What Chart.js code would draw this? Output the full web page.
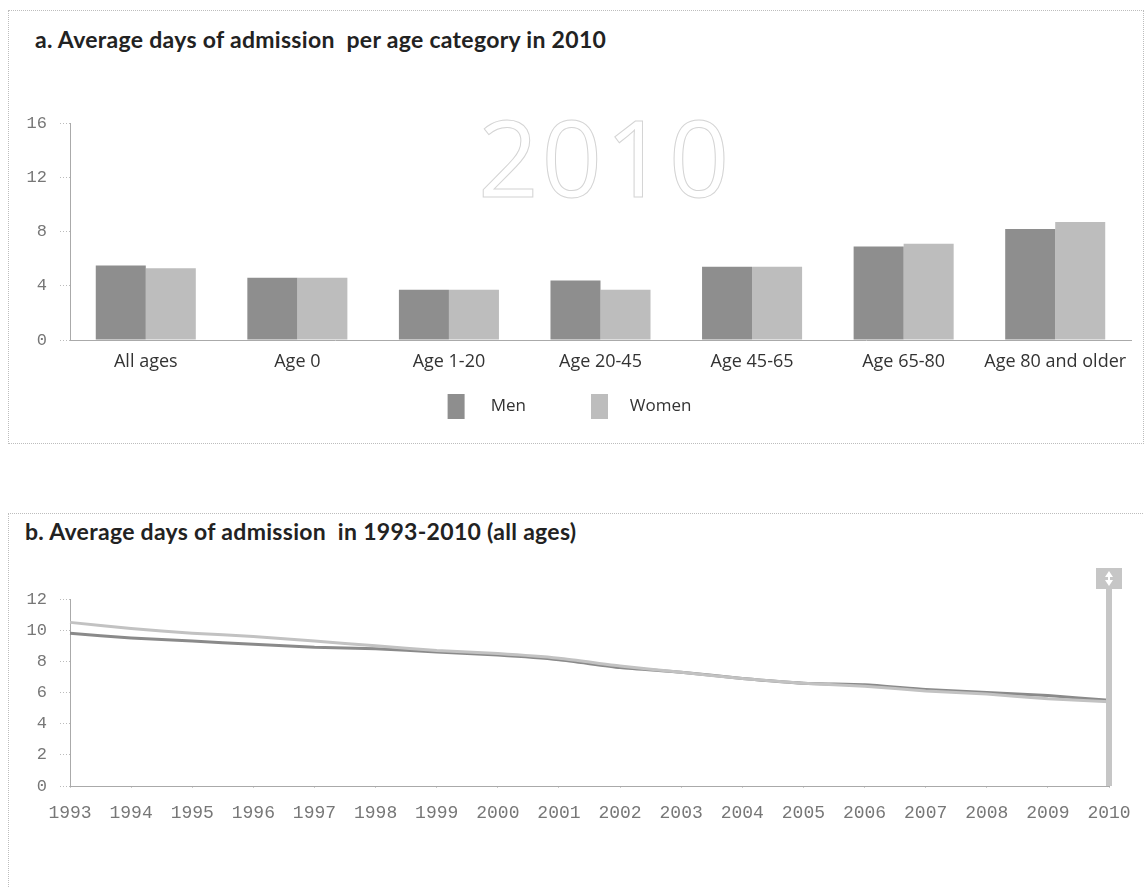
<!DOCTYPE html>
<html><head><meta charset="utf-8">
<script src="https://cdn.jsdelivr.net/npm/chart.js@4/dist/chart.umd.min.js"></script>
<style>
html,body{margin:0;padding:0;background:#fff;width:1146px;height:888px;overflow:hidden;}
.panel{position:absolute;border:1px dotted #bdbdbd;}
.title{position:absolute;font-family:Lato,"Noto Sans",sans-serif;font-weight:bold;font-size:23px;line-height:23px;letter-spacing:0.3px;color:#222;white-space:pre;}
.wm{position:absolute;font-family:"Open Sans",sans-serif;font-size:106px;letter-spacing:3px;color:transparent;-webkit-text-stroke:1px #d4d4d4;line-height:1;}
.box{position:absolute;}
</style></head>
<body>
<div class="panel" style="left:8px;top:10px;width:1134px;height:432px;"></div>
<div class="panel" style="left:8px;top:513px;width:1134px;height:374px;border-right:none;"></div>
<div class="title" style="left:35px;top:28px;">a. Average days of admission  per age category in 2010</div>
<div class="title" style="left:25px;top:520px;">b. Average days of admission  in 1993-2010 (all ages)</div>
<div class="wm" style="left:478px;top:103px;">2010</div>
<div class="box" style="left:0;top:100px;width:1146px;height:329px;"><canvas id="c1"></canvas></div>
<div class="box" style="left:0;top:561px;width:1146px;height:267px;"><canvas id="c2"></canvas></div>
<script>
const ageCategories = ["All ages","Age 0","Age 1-20","Age 20-45","Age 45-65","Age 65-80","Age 80 and older"];
const men2010 = [5.5,4.6,3.7,4.4,5.4,6.9,8.2];
const women2010 = [5.3,4.6,3.7,3.7,5.4,7.1,8.7];
const barTicks = [0,4,8,12,16];

const years = ["1993","1994","1995","1996","1997","1998","1999","2000","2001","2002","2003","2004","2005","2006","2007","2008","2009","2010"];
const menTrend =   [9.8,9.5,9.3,9.1,8.9,8.8,8.6,8.4,8.1,7.6,7.3,6.9,6.6,6.5,6.2,6.0,5.8,5.5];
const womenTrend = [10.5,10.1,9.8,9.6,9.3,9.0,8.7,8.5,8.2,7.7,7.3,6.9,6.6,6.4,6.1,5.9,5.6,5.4];
const lineTicks = [0,2,4,6,8,10,12];
const markedYear = "2010";

const MEN_BAR = '#8e8e8e', WOMEN_BAR = '#bdbdbd';
const MEN_LINE = '#8a8a8a', WOMEN_LINE = '#c2c2c2';
const monoFont = {family:'"Liberation Mono", monospace', size:17};

Chart.defaults.animation = false;
Chart.defaults.responsive = true;
Chart.defaults.maintainAspectRatio = false;

new Chart(document.getElementById('c1'), {
  type:'bar',
  data:{labels:ageCategories, datasets:[
    {label:'Men', data:men2010, backgroundColor:MEN_BAR, categoryPercentage:0.66, barPercentage:1},
    {label:'Women', data:women2010, backgroundColor:WOMEN_BAR, categoryPercentage:0.66, barPercentage:1}
  ]},
  options:{
    layout:{padding:{left:8,right:15,top:14,bottom:0}},
    plugins:{
      tooltip:{enabled:false},
      legend:{position:'bottom', labels:{
        boxWidth:17, boxHeight:25, padding:12, color:'#333',
        font:{family:'"Open Sans", sans-serif', size:17},
        generateLabels:(chart)=>{
          const items = Chart.defaults.plugins.legend.labels.generateLabels(chart);
          items.forEach((it,i)=>{ it.text = i===0 ? '    ' + it.text + '            ' : '   ' + it.text; it.lineWidth = 0; });
          return items;
        }
      }}
    },
    scales:{
      x:{grid:{display:false, drawTicks:false}, border:{color:'#aaa', dash:[1,2]},
         ticks:{color:'#333', padding:11, font:{family:'"Open Sans", sans-serif', size:18}},
         afterFit:(s)=>{s.height=42;}},
      y:{min:0, max:16,
         afterBuildTicks:(s)=>{s.ticks = barTicks.map(v=>({value:v}));},
         grid:{drawOnChartArea:false, drawTicks:true, tickLength:10, color:'#bbb', tickBorderDash:[1,2]},
         border:{color:'#aaa', dash:[1,2]},
         ticks:{color:'#777', padding:13, font:monoFont},
         afterFit:(s)=>{s.width=62;}}
    }
  }
});

const markerPlugin = {
  id:'marker',
  afterDatasetsDraw(chart){
    const {ctx, chartArea, scales:{x}} = chart;
    const px = x.getPixelForValue(years.indexOf(markedYear));
    ctx.save();
    ctx.fillStyle = '#c6c6c6';
    ctx.fillRect(px-3, chartArea.top-10, 6, chartArea.bottom-(chartArea.top-10));
    ctx.fillRect(px-13, chartArea.top-31, 26, 21);
    ctx.fillStyle = '#fff';
    ctx.beginPath();
    ctx.moveTo(px, chartArea.top-28); ctx.lineTo(px-4, chartArea.top-22); ctx.lineTo(px+4, chartArea.top-22); ctx.closePath();
    ctx.moveTo(px, chartArea.top-13); ctx.lineTo(px-4, chartArea.top-19); ctx.lineTo(px+4, chartArea.top-19); ctx.closePath();
    ctx.fill();
    ctx.fillRect(px-1, chartArea.top-23, 2, 5);
    ctx.restore();
  }
};

new Chart(document.getElementById('c2'), {
  type:'line',
  data:{labels:years, datasets:[
    {label:'Women', data:womenTrend, borderColor:WOMEN_LINE, borderWidth:3, pointRadius:0, tension:0.2},
    {label:'Men', data:menTrend, borderColor:MEN_LINE, borderWidth:3, pointRadius:0, tension:0.2}
  ]},
  options:{
    layout:{padding:{left:8,right:37,top:38,bottom:0}},
    plugins:{legend:{display:false}, tooltip:{enabled:false}},
    scales:{
      x:{offset:false, grid:{drawOnChartArea:false, drawTicks:true, tickLength:4, color:'#ccc', tickBorderDash:[1,2]},
         border:{color:'#aaa', dash:[1,2]},
         ticks:{color:'#777', padding:12, maxRotation:0, autoSkip:false, font:{family:'"Liberation Mono", monospace', size:18}},
         afterFit:(s)=>{s.height=42;}},
      y:{min:0, max:12,
         afterBuildTicks:(s)=>{s.ticks = lineTicks.map(v=>({value:v}));},
         grid:{drawOnChartArea:false, drawTicks:true, tickLength:10, color:'#bbb', tickBorderDash:[1,2]},
         border:{color:'#aaa', dash:[1,2]},
         ticks:{color:'#777', padding:13, font:monoFont},
         afterFit:(s)=>{s.width=62;}}
    }
  },
  plugins:[markerPlugin]
});
</script>
</body></html>
